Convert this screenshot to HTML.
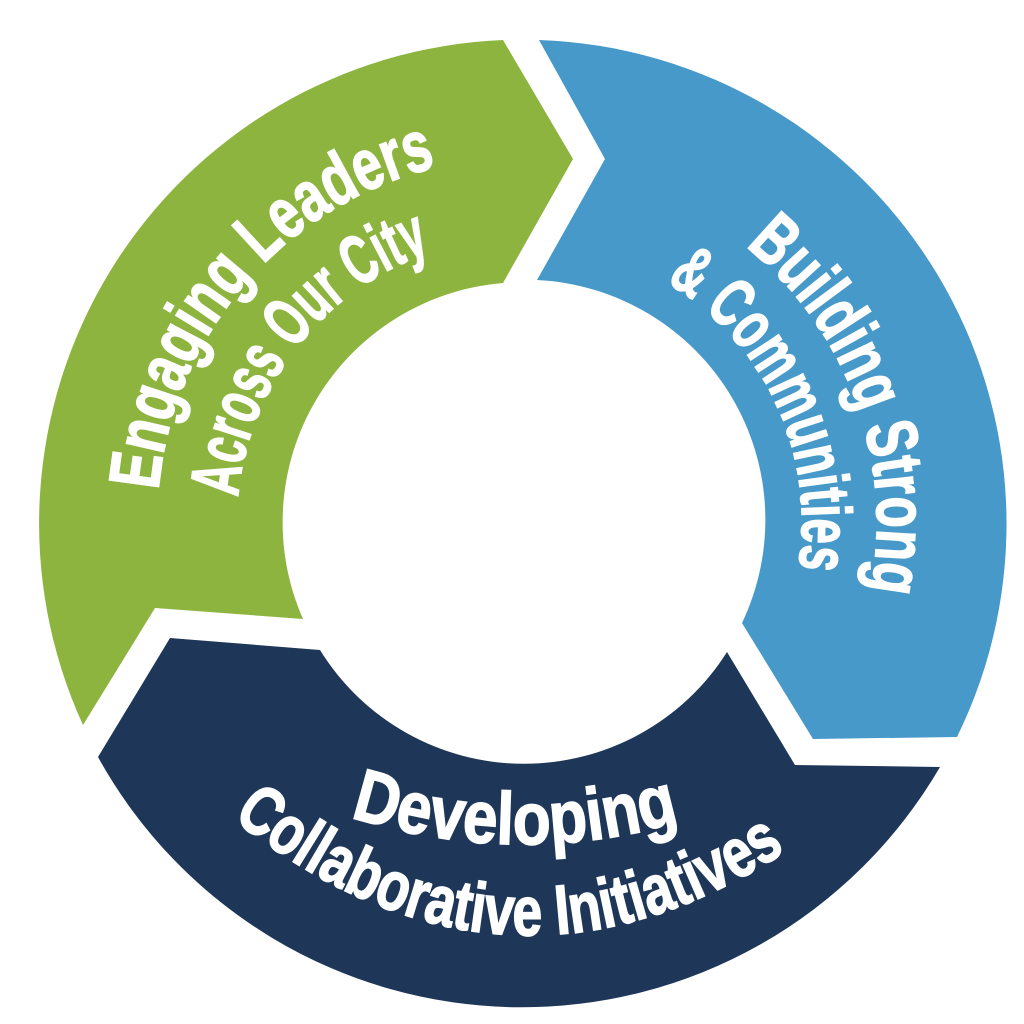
<!DOCTYPE html>
<html><head><meta charset="utf-8"><style>
html,body{margin:0;padding:0;background:#fff;width:1024px;height:1024px;overflow:hidden}
text{font-family:"Liberation Sans Narrow","Liberation Sans",sans-serif;font-weight:bold;fill:#fff;stroke:#fff;stroke-width:1.6;font-stretch:condensed}
</style></head><body>
<svg width="1024" height="1024" viewBox="0 0 1024 1024" xmlns="http://www.w3.org/2000/svg">
<defs>
<path id="g1" d="M 158.4,490.2 A 365 365 0 0 1 433.7,167.8"/>
<path id="g2" d="M 238.1,497.2 A 285 285 0 0 1 434,251"/>
<path id="b1" d="M 745.4,246.1 A 355 355 0 0 1 855.6,643.4"/>
<path id="b2" d="M 666.2,282 A 280 280 0 0 1 785.3,617.8"/>
<path id="n1" d="M 350,817 Q 515,869 680,822"/>
<path id="n2" d="M 232,818 Q 510,1040 800,842"/>
</defs>
<path fill="#8db43e" d="M 83,725 A 484 484 0 0 1 503,40 L 573,159 L 503,283 A 240 240 0 0 0 303,619 L 155,608 Z"/>
<path fill="#4699c9" d="M 539,40 A 484 484 0 0 1 957,737 L 813,739 L 742,623 A 240 240 0 0 0 537,280 L 605,159 Z"/>
<path fill="#1e3758" d="M 940,767 A 484 484 0 0 1 98,757 L 170,638 L 320,650 A 240 240 0 0 0 727,652 L 795,765 Z"/>
<text font-size="72"><textPath href="#g1" textLength="455" lengthAdjust="spacingAndGlyphs">Engaging Leaders</textPath></text>
<text font-size="70"><textPath href="#g2" textLength="330" lengthAdjust="spacingAndGlyphs">Across Our City</textPath></text>
<text font-size="72"><textPath href="#b1" textLength="385" lengthAdjust="spacingAndGlyphs">Building Strong</textPath></text>
<text font-size="70"><textPath href="#b2" textLength="335" lengthAdjust="spacingAndGlyphs">&amp; Communities</textPath></text>
<text font-size="74"><textPath href="#n1" textLength="335" lengthAdjust="spacingAndGlyphs">Developing</textPath></text>
<text font-size="70"><textPath href="#n2" textLength="600" lengthAdjust="spacingAndGlyphs">Collaborative Initiatives</textPath></text>
</svg>
</body></html>
